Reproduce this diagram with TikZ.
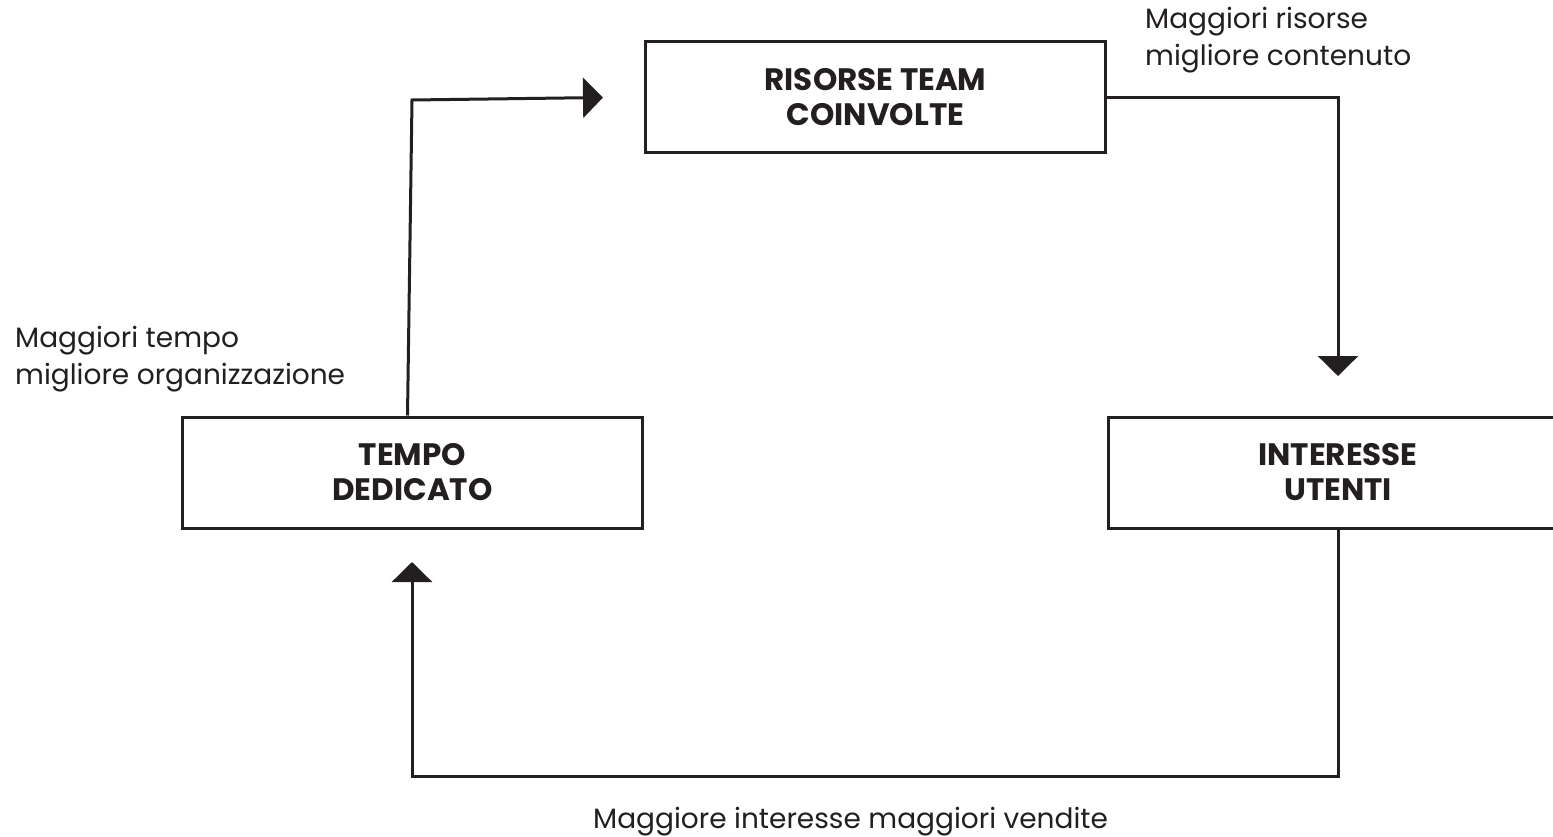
\documentclass[tikz,border=0pt]{standalone}
\usepackage{fontspec}
\setmainfont{Poppins}
\usetikzlibrary{arrows.meta}
\definecolor{ink}{HTML}{231F20}
\begin{document}
\begin{tikzpicture}[x=1pt,y=-1pt,
  box/.style={draw=ink, line width=3pt, minimum width=460pt, minimum height=111pt,
    inner sep=0pt, align=center, text=ink,
    font=\fontsize{31}{35}\selectfont\bfseries},
  conn/.style={draw=ink, line width=3pt, -{Triangle[length=20pt 0 0,width=40pt 0 0]}},
  lbl/.style={font=\fontsize{28}{37}\selectfont, align=left, inner sep=0pt, text=ink}]
\clip (0,0) rectangle (1553,837);
\fill[white] (0,0) rectangle (1553,837);
% boxes
\node[box] (risorse) at (875.5,97.5) {RISORSE TEAM\\COINVOLTE};
\node[box] (tempo) at (412.5,472.5) {TEMPO\\DEDICATO};
\node[box] (interesse) at (1338,472.5) {INTERESSE\\UTENTI};
% connector end points
\coordinate (bendA) at (412,100);
\coordinate (tipA) at (603,97.5);
\coordinate (tipB) at (1338,376);
\coordinate (tipC) at (412,562);
% connectors
\draw[conn] ([xshift=-5pt]tempo.north) -- (bendA) -- (tipA);
\draw[conn] (risorse.east) -| (tipB);
\draw[conn] (interesse.south) -- ++(0,247) -| (tipC);
% labels (base anchor = baseline of last line)
\node[lbl, anchor=base west] (ltempo) at (15,384) {Maggiori tempo\\migliore organizzazione};
\node[lbl, anchor=base west] (lrisorse) at (1145,66) {Maggiori risorse\\migliore contenuto};
\node[lbl, anchor=base west] (linteresse) at (593,828) {Maggiore interesse maggiori vendite};
\end{tikzpicture}
\end{document}
